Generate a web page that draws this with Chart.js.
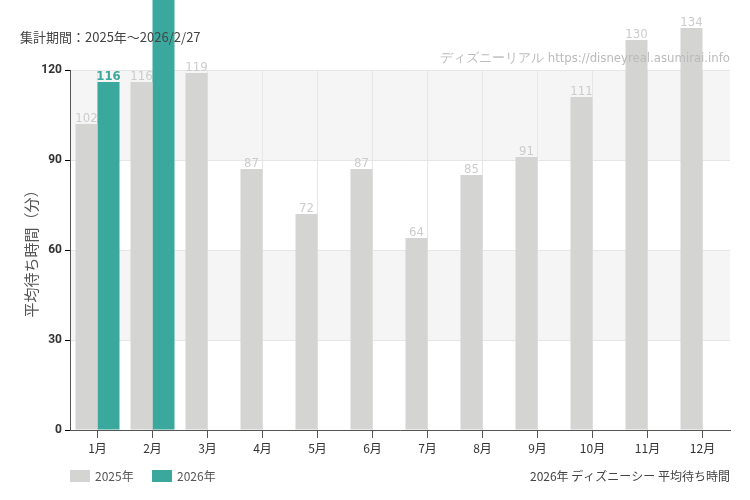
<!DOCTYPE html><html><head><meta charset="utf-8">
<script src="https://cdn.jsdelivr.net/npm/chart.js@4"></script>
<style>body{margin:0;background:#fff}#w{width:750px;height:500px}</style></head><body><div id="w"><canvas id="c"></canvas></div>
<script>
const categories=["1月","2月","3月","4月","5月","6月","7月","8月","9月","10月","11月","12月"];
const v2025=[102,116,119,87,72,87,64,85,91,111,130,134];
const v2026=[116,146,null,null,null,null,null,null,null,null,null,null];
const yTicks=[0,30,60,90,120];
const F="'Noto Sans CJK JP','Noto Sans',sans-serif";
const N="'DejaVu Sans Condensed','Roboto',sans-serif";
const deco={id:'deco',
beforeDraw(ch){const c=ch.ctx,a=ch.chartArea,y=ch.scales.y;c.save();c.fillStyle='#f5f5f5';
[[90,120],[30,60]].forEach(([l,h])=>c.fillRect(a.left,y.getPixelForValue(h),a.right-a.left,y.getPixelForValue(l)-y.getPixelForValue(h)));c.restore();},
afterDatasetsDraw(ch){const c=ch.ctx;c.save();c.textAlign='center';c.textBaseline='bottom';
[0,1].forEach(i=>{const m=ch.getDatasetMeta(i);m.data.forEach((b,j)=>{const v=ch.data.datasets[i].data[j];if(v==null||b.y<12)return;c.font=(i?'bold ':'')+'13px '+N;c.fillStyle=i?'#3aa89c':'#cccccc';c.fillText(v,b.x,b.y+1);});});
c.font='13px '+F;c.fillStyle='#444';c.textAlign='left';c.textBaseline='middle';c.fillText('集計期間：2025年〜2026/2/27',20,37);
c.textAlign='right';c.fillStyle='#bbb';c.font='13px '+N;c.fillText('ディズニーリアル https://disneyreal.asumirai.info',730,59);
c.fillStyle='#444';c.font='12px '+F;c.fillText('2026年 ディズニーシー 平均待ち時間',730,476);
c.textAlign='left';c.fillStyle='#d4d4d2';c.fillRect(70,470,20,12);c.fillStyle='#3aa89c';c.fillRect(152,470,20,12);
c.fillStyle='#555';c.fillText('2025年',95,476);c.fillText('2026年',177,476);c.restore();}};
new Chart(document.getElementById('c'),{type:'bar',
data:{labels:categories,datasets:[{label:'2025年',data:v2025,backgroundColor:'#d4d4d2',clip:false},{label:'2026年',data:v2026,backgroundColor:'#3aa89c',clip:false}]},
options:{responsive:true,maintainAspectRatio:false,animation:false,
layout:{padding:{top:70,right:20,left:18,bottom:0}},
categoryPercentage:0.8,barPercentage:1,
plugins:{legend:{display:false},tooltip:{enabled:false}},
scales:{x:{grid:{offset:false,color:'#e6e6e6',drawTicks:true,tickColor:'#555'},border:{color:'#555'},ticks:{color:'#333',font:{size:12,family:F}},afterFit(s){s.height=70;}},
y:{min:0,max:120,afterBuildTicks(s){s.ticks=yTicks.map(v=>({value:v}));},grid:{color:'#e6e6e6',tickColor:'#000',tickLength:5},border:{color:'#555'},
ticks:{color:'#333',font:{size:12,weight:'bold',family:"Roboto"},padding:3},
title:{display:true,text:'平均待ち時間（分）',color:'#555',font:{size:15,family:F}},afterFit(s){s.width=52;}}}},
plugins:[deco]});
</script></body></html>
